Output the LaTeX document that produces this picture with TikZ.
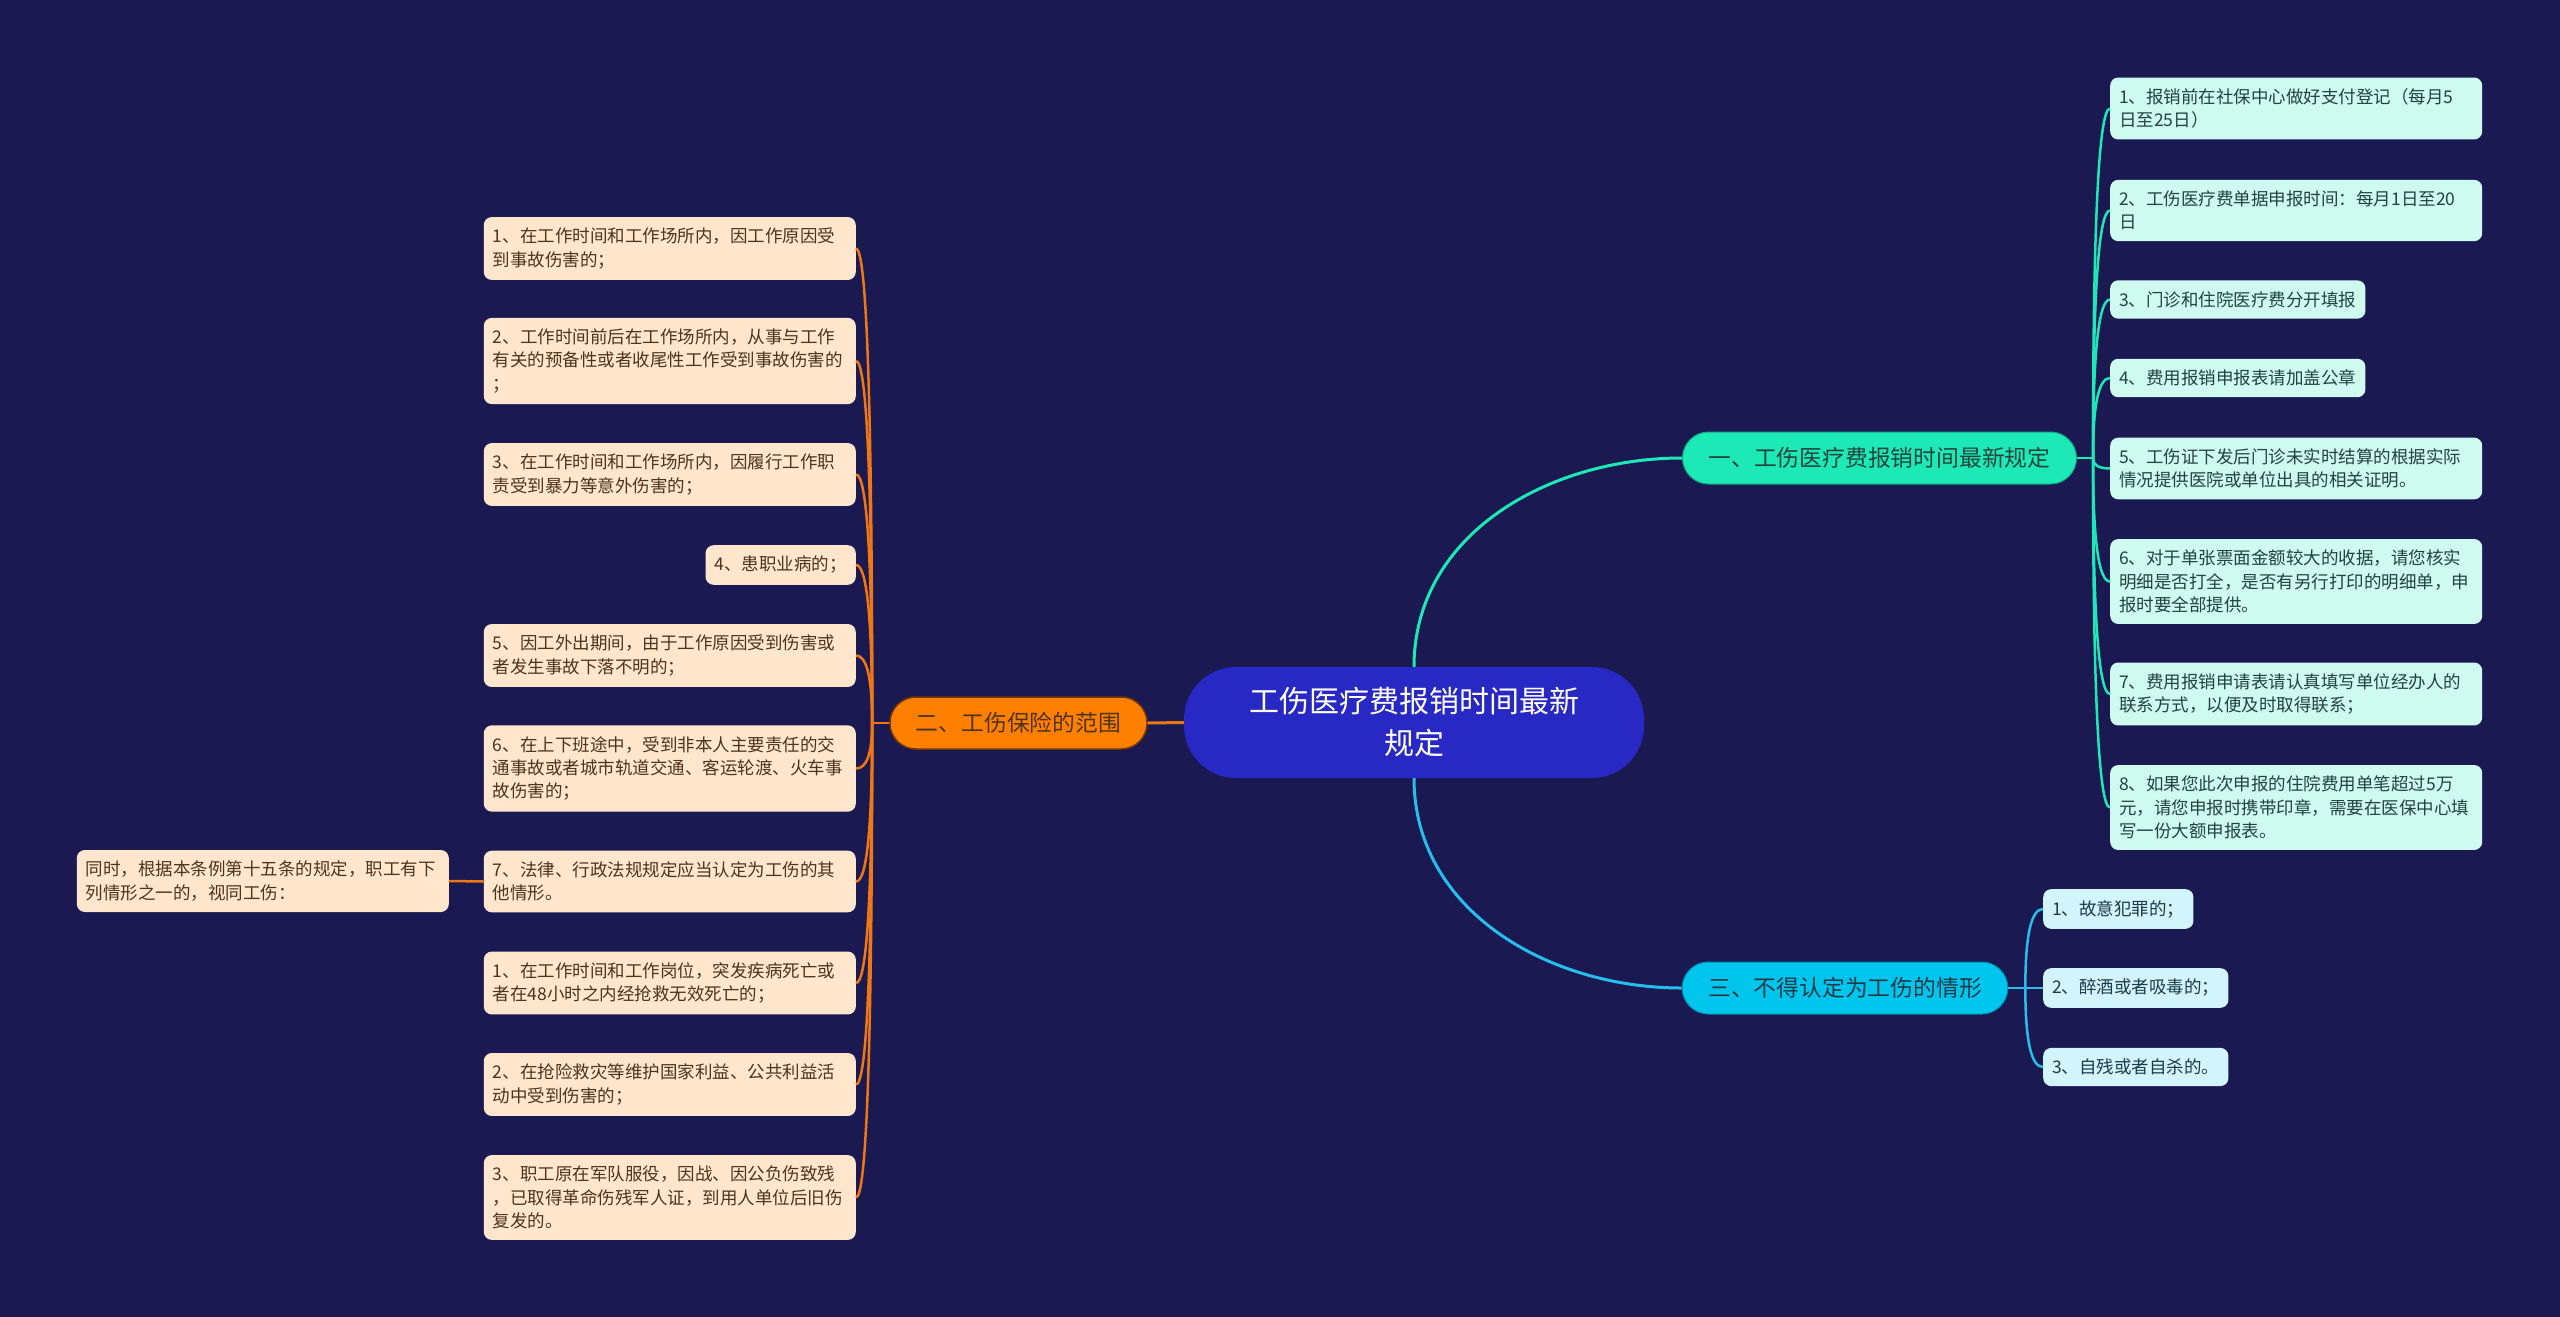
\documentclass[tikz,border=0pt]{standalone}
\usepackage{fontspec}
\setmainfont{Noto Sans CJK SC}
\usetikzlibrary{calc}

\definecolor{bgnavy}{RGB}{26,25,82}
\definecolor{rootblue}{RGB}{40,40,196}
\definecolor{tealA}{RGB}{29,233,182}
\definecolor{tealleaf}{RGB}{206,250,240}
\definecolor{tealtext}{RGB}{34,68,62}
\definecolor{orangeB}{RGB}{255,128,0}
\definecolor{orangeline}{RGB}{240,120,20}
\definecolor{orangeleaf}{RGB}{255,230,204}
\definecolor{orangetext}{RGB}{78,52,28}
\definecolor{cyanC}{RGB}{0,198,238}
\definecolor{cyanline}{RGB}{40,190,235}
\definecolor{cyanleaf}{RGB}{210,245,252}
\definecolor{cyantext}{RGB}{28,58,72}

\tikzset{
  topicbox/.style={fill=rootblue, text=white, rounded corners=52pt, minimum height=111pt,
    inner xsep=65pt, align=center, font=\fontsize{30pt}{42pt}\selectfont},
  mainbox/.style={rounded corners=26pt, minimum height=52pt, inner xsep=26pt, inner ysep=0pt,
    font=\fontsize{22.8pt}{27pt}\selectfont},
  leafbox/.style={rounded corners=8pt, inner xsep=9pt, inner ysep=11pt, align=left,
    font=\fontsize{17.5pt}{23.3pt}\selectfont},
  widebox/.style={text width=354pt},
  leafA/.style={leafbox, fill=tealleaf, text=tealtext, anchor=west},
  leafB/.style={leafbox, fill=orangeleaf, text=orangetext, anchor=east},
  leafC/.style={leafbox, fill=cyanleaf, text=cyantext, anchor=west},
  lineA/.style={draw=tealA, line width=3pt},
  lineB/.style={draw=orangeline, line width=3pt},
  lineC/.style={draw=cyanline, line width=3pt},
  twigA/.style={draw=tealA, line width=2.5pt},
  twigB/.style={draw=orangeline, line width=2.5pt},
  twigC/.style={draw=cyanline, line width=2.5pt}
}

\begin{document}
\begin{tikzpicture}[x=1pt, y=1pt]
  \useasboundingbox (0,0) rectangle (2560,-1317);
  \fill[bgnavy] (0,0) rectangle (2560,-1317);

  % centre and main topics
  \node[topicbox] (root) at (1414,-722.5) {工伤医疗费报销时间最新\\规定};
  \node[mainbox, fill=tealA, text=tealtext, draw=tealA!70!black, line width=1pt] (b1) at (1879.5,-458) {一、工伤医疗费报销时间最新规定};
  \node[mainbox, fill=orangeB, text=orangetext, draw=orangeB!45!black, line width=1.5pt] (b2) at (1018.5,-723) {二、工伤保险的范围};
  \node[mainbox, fill=cyanC, text=cyantext, draw=cyanC!70!black, line width=1pt] (b3) at (1845,-988) {三、不得认定为工伤的情形};

  % first topic
  \node[leafA, widebox] (a1) at (2110,-108.5) {1、报销前在社保中心做好支付登记（每月5\\日至25日）};
  \node[leafA, widebox] (a2) at (2110,-210.5) {2、工伤医疗费单据申报时间：每月1日至20\\日};
  \node[leafA] (a3) at (2110,-299.5) {3、门诊和住院医疗费分开填报};
  \node[leafA] (a4) at (2110,-378) {4、费用报销申报表请加盖公章};
  \node[leafA, widebox] (a5) at (2110,-468.5) {5、工伤证下发后门诊未实时结算的根据实际\\情况提供医院或单位出具的相关证明。};
  \node[leafA, widebox] (a6) at (2110,-581.5) {6、对于单张票面金额较大的收据，请您核实\\明细是否打全，是否有另行打印的明细单，申\\报时要全部提供。};
  \node[leafA, widebox] (a7) at (2110,-694) {7、费用报销申请表请认真填写单位经办人的\\联系方式，以便及时取得联系；};
  \node[leafA, widebox] (a8) at (2110,-807.5) {8、如果您此次申报的住院费用单笔超过5万\\元，请您申报时携带印章，需要在医保中心填\\写一份大额申报表。};

  % second topic
  \node[leafB, widebox] (s1) at (856,-248.5) {1、在工作时间和工作场所内，因工作原因受\\到事故伤害的；};
  \node[leafB, widebox] (s2) at (856,-361) {2、工作时间前后在工作场所内，从事与工作\\有关的预备性或者收尾性工作受到事故伤害的\\；};
  \node[leafB, widebox] (s3) at (856,-474.5) {3、在工作时间和工作场所内，因履行工作职\\责受到暴力等意外伤害的；};
  \node[leafB] (s4) at (856,-565) {4、患职业病的；};
  \node[leafB, widebox] (s5) at (856,-655.5) {5、因工外出期间，由于工作原因受到伤害或\\者发生事故下落不明的；};
  \node[leafB, widebox] (s6) at (856,-768.5) {6、在上下班途中，受到非本人主要责任的交\\通事故或者城市轨道交通、客运轮渡、火车事\\故伤害的；};
  \node[leafB, widebox] (s7) at (856,-881.5) {7、法律、行政法规规定应当认定为工伤的其\\他情形。};
  \node[leafB, widebox] (s8) at (856,-983) {1、在工作时间和工作岗位，突发疾病死亡或\\者在48小时之内经抢救无效死亡的；};
  \node[leafB, widebox] (s9) at (856,-1084.5) {2、在抢险救灾等维护国家利益、公共利益活\\动中受到伤害的；};
  \node[leafB, widebox] (s10) at (856,-1197.5) {3、职工原在军队服役，因战、因公负伤致残\\，已取得革命伤残军人证，到用人单位后旧伤\\复发的。};
  \node[leafB, widebox] (same) at (449,-881) {同时，根据本条例第十五条的规定，职工有下\\列情形之一的，视同工伤：};

  % third topic
  \node[leafC] (t1) at (2043,-909) {1、故意犯罪的；};
  \node[leafC] (t2) at (2043,-988) {2、醉酒或者吸毒的；};
  \node[leafC] (t3) at (2043,-1067) {3、自残或者自杀的。};

  % centre to topics
  \draw[lineA] (root.north) to[out=90,in=180] (b1.west);
  \draw[lineB] (root.west) -- (b2.east);
  \draw[lineC] (root.south) to[out=-90,in=180] (b3.west);

  % topics to leaves
  \coordinate (b1s) at ([xshift=16pt]b1.east);
  \coordinate (b2s) at ([xshift=-17pt]b2.west);
  \coordinate (b3s) at ([xshift=17pt]b3.east);
  \draw[twigA] (b1.east) -- (b1s);
  \draw[twigB] (b2.west) -- (b2s);
  \draw[twigC] (b3.east) -- (b3s);
  \foreach \k in {1,...,8}
    \draw[twigA] (b1s) .. controls ($(b1s)!0.667!(b1s |- a\k.west)$) and ($(a\k.west)!0.667!(b1s |- a\k.west)$) .. (a\k.west);
  \foreach \k in {1,...,10}
    \draw[twigB] (b2s) .. controls ($(b2s)!0.667!(b2s |- s\k.east)$) and ($(s\k.east)!0.667!(b2s |- s\k.east)$) .. (s\k.east);
  \foreach \k in {1,2,3}
    \draw[twigC] (b3s) .. controls ($(b3s)!0.667!(b3s |- t\k.west)$) and ($(t\k.west)!0.667!(b3s |- t\k.west)$) .. (t\k.west);
  \draw[twigB] (s7.west) -- (same.east);
\end{tikzpicture}
\end{document}
